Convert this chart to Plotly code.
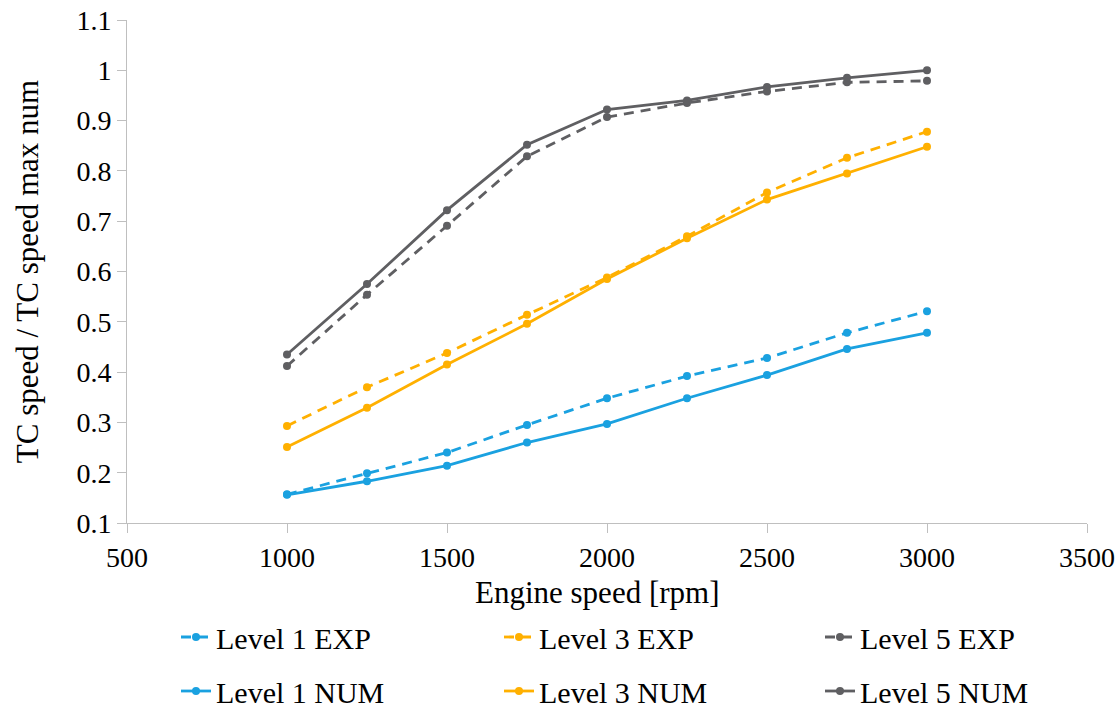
import plotly.graph_objects as go

engine_speed = [1000, 1250, 1500, 1750, 2000, 2250, 2500, 2750, 3000]

level1_exp = [0.157, 0.199, 0.240, 0.295, 0.348, 0.392, 0.428, 0.478, 0.521]
level3_exp = [0.293, 0.370, 0.438, 0.514, 0.588, 0.670, 0.757, 0.826, 0.878]
level5_exp = [0.412, 0.554, 0.691, 0.829, 0.907, 0.935, 0.958, 0.976, 0.979]
level1_num = [0.156, 0.183, 0.214, 0.260, 0.297, 0.348, 0.394, 0.446, 0.478]
level3_num = [0.251, 0.329, 0.415, 0.496, 0.585, 0.666, 0.743, 0.795, 0.848]
level5_num = [0.435, 0.575, 0.722, 0.852, 0.922, 0.940, 0.967, 0.985, 1.000]

names_exp = ["Level 1 EXP", "Level 3 EXP", "Level 5 EXP"]
names_num = ["Level 1 NUM", "Level 3 NUM", "Level 5 NUM"]

y_ticks = [0.1, 0.2, 0.3, 0.4, 0.5, 0.6, 0.7, 0.8, 0.9, 1.0, 1.1]
y_ticktext = ["0.1", "0.2", "0.3", "0.4", "0.5", "0.6", "0.7", "0.8", "0.9", "1", "1.1"]

BLUE = "#1AA1E0"
ORANGE = "#FFB000"
GRAY = "#5F5F62"
colors = [BLUE, ORANGE, GRAY]

FONT = "Liberation Serif, Times New Roman, serif"

# legend columns (container px of legend left edge) and rows (container px centers)
col_px = [176, 499, 820]
row_px = [637, 691]

fig = go.Figure()
for i, (name, ys, c) in enumerate(zip(names_exp, [level1_exp, level3_exp, level5_exp], colors)):
    fig.add_trace(go.Scatter(
        x=engine_speed, y=ys, name=name, mode="lines+markers",
        line=dict(color=c, width=2.8, dash="10px,7px"),
        marker=dict(color=c, size=8),
        legend="legend" if i == 0 else f"legend{i + 1}"))
for i, (name, ys, c) in enumerate(zip(names_num, [level1_num, level3_num, level5_num], colors)):
    fig.add_trace(go.Scatter(
        x=engine_speed, y=ys, name=name, mode="lines+markers",
        line=dict(color=c, width=2.8),
        marker=dict(color=c, size=8),
        legend=f"legend{i + 4}"))

axis_common = dict(
    showline=True, linecolor="#BFBFBF", linewidth=1,
    ticks="outside", ticklen=9, tickcolor="#BFBFBF", tickwidth=1,
    showgrid=False, zeroline=False, automargin=False,
    tickfont=dict(family=FONT, size=28, color="#000000"),
)

fig.update_xaxes(range=[500, 3500], tick0=500, dtick=500, **axis_common)
fig.update_yaxes(range=[0.1, 1.1], tickvals=y_ticks, ticktext=y_ticktext,
                 title=dict(text="TC speed / TC speed max num",
                            font=dict(family=FONT, size=31, color="#000000"),
                            standoff=28),
                 **axis_common)

fig.add_annotation(text="Engine speed [rpm]", xref="paper", yref="paper",
                   x=(597 - 127) / 960, y=-(592 - 523) / 503,
                   xanchor="center", yanchor="middle", showarrow=False,
                   font=dict(family=FONT, size=31, color="#000000"))

legend_common = dict(
    orientation="h", xref="container", yref="container",
    xanchor="left", yanchor="middle",
    font=dict(family=FONT, size=30, color="#000000"),
    bgcolor="rgba(0,0,0,0)",
)
legends = {}
for r in range(2):
    for cidx in range(3):
        k = r * 3 + cidx
        key = "legend" if k == 0 else f"legend{k + 1}"
        legends[key] = dict(x=col_px[cidx] / 1116, y=1 - row_px[r] / 709, **legend_common)

fig.update_layout(
    width=1116, height=709,
    margin=dict(l=127, r=29, t=20, b=186),
    plot_bgcolor="white", paper_bgcolor="white",
    showlegend=True,
    **legends,
)

fig.write_html("out.html")
